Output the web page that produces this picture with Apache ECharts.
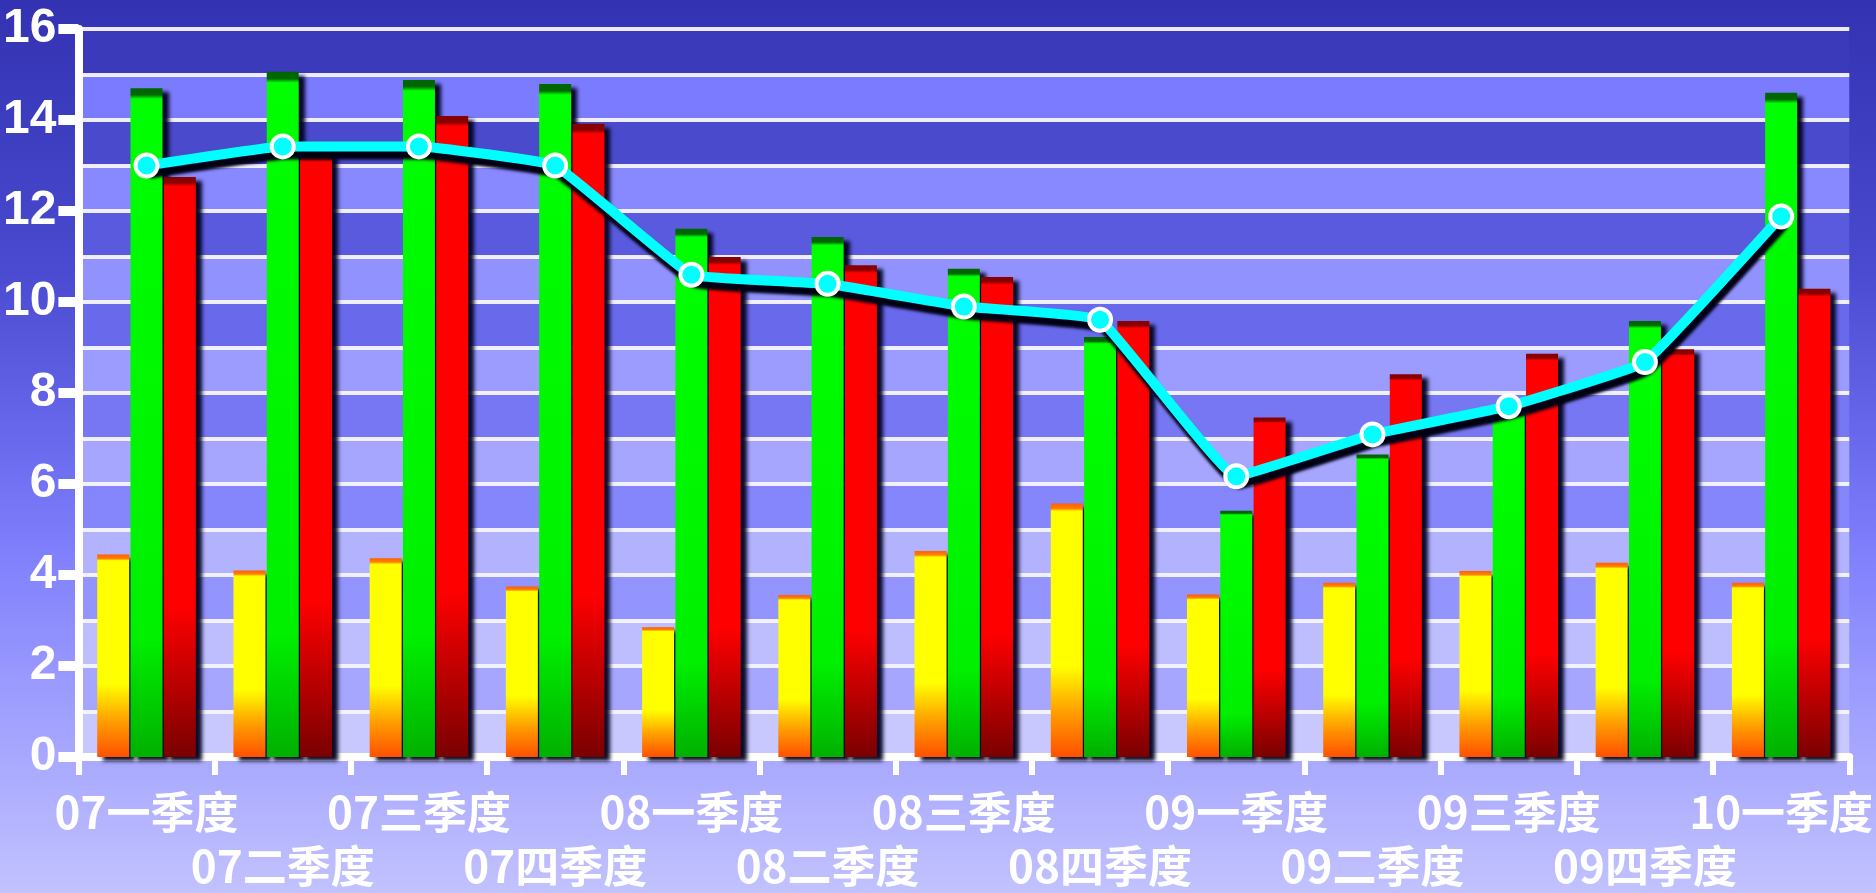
<!DOCTYPE html>
<html>
<head>
<meta charset="utf-8">
<title>季度对比</title>
<script src="https://cdn.jsdelivr.net/npm/echarts/dist/echarts.min.js"></script>
<style>
    html, body { margin: 0; padding: 0; }
    #chart { width: 1876px; height: 893px; }
</style>
</head>
<body>
<div id="chart"></div>
<script>
// Data
const categories = ['07一季度', '07二季度', '07三季度', '07四季度', '08一季度', '08二季度', '08三季度',
    '08四季度', '09一季度', '09二季度', '09三季度', '09四季度', '10一季度'];
const yellowValues = [4.45, 4.1, 4.37, 3.75, 2.85, 3.56, 4.53, 5.57, 3.57, 3.83, 4.09, 4.27, 3.83];
const greenValues = [14.7, 15.06, 14.88, 14.79, 11.61, 11.43, 10.73, 9.23, 5.41, 6.65, 7.6, 9.58, 14.6];
const redValues = [12.75, 13.3, 14.09, 13.92, 10.99, 10.81, 10.55, 9.58, 7.46, 8.41, 8.86, 8.96, 10.29];
const lineValues = [13.0, 13.42, 13.42, 13.0, 10.6, 10.4, 9.9, 9.61, 6.17, 7.09, 7.71, 8.68, 11.88];
const yMin = 0;
const yMax = 16;
const yLabelStep = 2;

// alternating bands, bottom to top
const bandColors = ['#c8c8ff', '#a6a6ff', '#bebeff', '#9494ff', '#b2b2ff', '#8686fc', '#a6a6ff', '#7777f4',
    '#9c9cff', '#6969ec', '#9292ff', '#5a5adf', '#8888ff', '#4a4acc', '#7b7bff', '#3a3abb'];

function vGrad(stops) {
    return new echarts.graphic.LinearGradient(0, 0, 0, 1,
        stops.map(s => ({ offset: s[0], color: s[1] })));
}

// no border: a stroke would throw its own shadow onto the bar face
function barSeries(name, values, fill) {
    return {
        name: name,
        type: 'bar',
        data: values,
        barWidth: 32,
        barGap: '4%',
        itemStyle: {
            color: fill,
            shadowColor: 'rgba(0, 0, 30, 0.95)',
            shadowBlur: 4,
            shadowOffsetX: 6,
            shadowOffsetY: 4
        }
    };
}

const chart = echarts.init(document.getElementById('chart'));

chart.setOption({
    animation: false,
    backgroundColor: vGrad([[0, '#3232b2'], [0.3, '#4a4ad0'], [0.5, '#6a6aee'], [0.62, '#8080fd'],
        [0.8, '#a0a0ff'], [1, '#c2c2ff']]),
    grid: { left: 78, right: 24, top: 29, bottom: 134 },
    xAxis: {
        type: 'category',
        data: categories,
        axisLine: { lineStyle: { color: '#ffffff', width: 8 } },
        axisTick: { show: true, interval: 0, length: 18, lineStyle: { color: '#ffffff', width: 6 } },
        axisLabel: {
            interval: 0,
            color: '#ffffff',
            fontSize: 44,
            fontWeight: 'bold',
            fontFamily: "'Noto Sans CJK SC', sans-serif",
            lineHeight: 54,
            margin: 28,
            formatter: (value, index) => (index % 2 ? '\n' + value : value)
        },
        splitLine: { show: false }
    },
    yAxis: [
        {
            // grid lines and bands, one per unit
            type: 'value',
            min: yMin,
            max: yMax,
            interval: 1,
            position: 'left',
            axisLine: { show: false },
            axisTick: { show: false },
            axisLabel: { show: false },
            splitLine: { lineStyle: { color: 'rgba(245, 245, 255, 0.95)', width: 4 } },
            splitArea: { show: true, areaStyle: { color: bandColors } }
        },
        {
            // labelled axis, every 2 units
            type: 'value',
            min: yMin,
            max: yMax,
            interval: yLabelStep,
            position: 'left',
            axisLine: { show: true, lineStyle: { color: '#ffffff', width: 8 } },
            axisTick: { show: true, length: 20, lineStyle: { color: '#ffffff', width: 10 } },
            axisLabel: {
                color: '#ffffff',
                fontSize: 48,
                fontWeight: 'bold',
                fontFamily: "'Liberation Sans', Arial, sans-serif",
                margin: 22
            },
            splitLine: { show: false }
        }
    ],
    series: [
        barSeries('系列1', yellowValues,
            vGrad([[0, '#ff6000'], [0.02, '#ff8000'], [0.03, '#ffff00'], [0.64, '#ffff00'],
                [0.82, '#ffa000'], [1, '#ff5000']])),
        barSeries('系列2', greenValues,
            vGrad([[0, '#006600'], [0.01, '#006600'], [0.016, '#00ff00'], [0.82, '#00f000'], [1, '#00b000']])),
        barSeries('系列3', redValues,
            vGrad([[0, '#880000'], [0.01, '#880000'], [0.016, '#ff0000'], [0.74, '#ff0000'], [1, '#7a0000']])),
        {
            name: '系列4',
            type: 'line',
            data: lineValues,
            smooth: 0.08,
            symbol: 'circle',
            symbolSize: 22,
            z: 5,
            lineStyle: {
                color: '#00ffff',
                width: 10,
                shadowColor: 'rgba(0, 0, 20, 1)',
                shadowBlur: 3,
                shadowOffsetX: 3,
                shadowOffsetY: 8
            },
            itemStyle: {
                color: '#00ffff',
                borderColor: '#ffffff',
                borderWidth: 4
            }
        }
    ]
});

window.addEventListener('resize', () => chart.resize());
</script>
</body>
</html>
